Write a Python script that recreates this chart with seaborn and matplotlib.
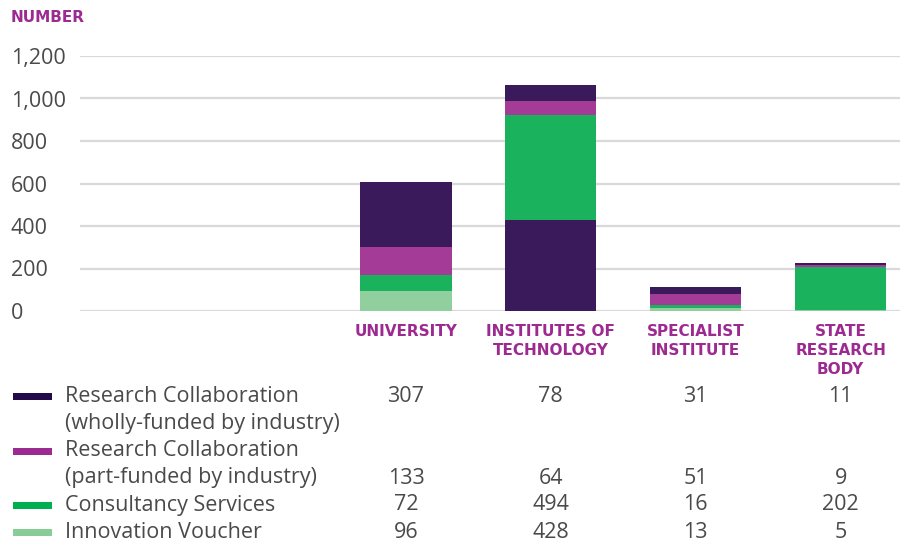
import matplotlib
matplotlib.use("Agg")
import matplotlib.pyplot as plt
import matplotlib.transforms as mtransforms
from matplotlib.patches import Rectangle
import pandas as pd
import seaborn as sns

categories = ["UNIVERSITY", "INSTITUTES OF\nTECHNOLOGY", "SPECIALIST\nINSTITUTE", "STATE\nRESEARCH\nBODY"]
series_labels = [
    "Research Collaboration\n(wholly-funded by industry)",
    "Research Collaboration\n(part-funded by industry)",
    "Consultancy Services",
    "Innovation Voucher",
]
rc_wholly = [307, 78, 31, 11]
rc_part = [133, 64, 51, 9]
consultancy = [72, 494, 16, 202]
voucher = [96, 428, 13, 5]
y_ticks = [0, 200, 400, 600, 800, 1000, 1200]

# legend colours and the (slightly lighter) bar colours
legend_colors = ["#22094a", "#9c2a90", "#00b050", "#88cc96"]
bar_colors = ["#3b1a5b", "#a43c97", "#1bb25e", "#92cf9e"]
magenta = "#9c2a90"
text_gray = "#4a4a4a"
bold_font = ["DejaVu Sans"]

sns.set_style("white")
plt.rcParams["font.family"] = ["Open Sans", "DejaVu Sans"]

df = pd.DataFrame(
    {
        "category": categories,
        "voucher": voucher,
        "consultancy": consultancy,
        "rc_part": rc_part,
        "rc_wholly": rc_wholly,
    }
)
# cumulative heights, drawn tallest first so each layer overlaps the one above
df["l1"] = df["voucher"]
df["l2"] = df["l1"] + df["consultancy"]
df["l3"] = df["l2"] + df["rc_part"]
df["l4"] = df["l3"] + df["rc_wholly"]

fig = plt.figure(figsize=(9, 5.45), dpi=100)
ax = fig.add_axes([80 / 900, 1 - 311 / 545, 820 / 900, 255 / 545])

for col, color in zip(["l4", "l3", "l2", "l1"], bar_colors):
    sns.barplot(
        data=df, x="category", y=col, color=color, saturation=1,
        width=0.63, linewidth=0, ax=ax, order=categories,
    )

# in the source chart the institutes-of-technology voucher block is drawn dark
ax.patches[-3].set_facecolor(bar_colors[0])

ax.set_xlim(-2.25, 3.41)
ax.set_ylim(0, 1200)
ax.set_yticks(y_ticks)
ax.set_yticklabels([f"{v:,}" for v in y_ticks], fontsize=15.5, color=text_gray)
for lab in ax.get_yticklabels():
    lab.set_horizontalalignment("left")
ax.tick_params(axis="y", length=0, pad=50)
ax.tick_params(axis="x", length=0, pad=9)
ax.set_xticks(range(len(categories)))
ax.set_xticklabels(categories, fontsize=11, fontweight="bold", color=magenta,
                   linespacing=1.35, va="top", family=bold_font)
ax.set_xlabel("")
ax.set_ylabel("")
ax.yaxis.grid(True, color="#d9d9d9", lw=1.6)
ax.set_axisbelow(True)
sns.despine(ax=ax, left=True, bottom=True)

fig.text(11 / 900, 1 - 17 / 545, "NUMBER", fontsize=11, fontweight="bold", color=magenta,
         va="center", ha="left", family=bold_font)

# table below the chart
text_rows = [396, 451, 505, 532]
value_rows = [396, 478, 505, 532]
series_values = [rc_wholly, rc_part, consultancy, voucher]
blend = mtransforms.blended_transform_factory(ax.transData, fig.transFigure)
for i, label in enumerate(series_labels):
    yy = 1 - text_rows[i] / 545
    fig.add_artist(Rectangle((13 / 900, yy - 3.5 / 545), 39 / 900, 7 / 545,
                             transform=fig.transFigure, color=legend_colors[i], lw=0))
    for j, line in enumerate(label.split("\n")):
        fig.text(65 / 900, 1 - (text_rows[i] + 27 * j) / 545, line, fontsize=15.5,
                 color=text_gray, va="center", ha="left")
    for k, v in enumerate(series_values[i]):
        ax.text(k, 1 - value_rows[i] / 545, str(v), transform=blend, fontsize=15.5,
                color=text_gray, va="center", ha="center")

fig.savefig("out.png", dpi=100)
